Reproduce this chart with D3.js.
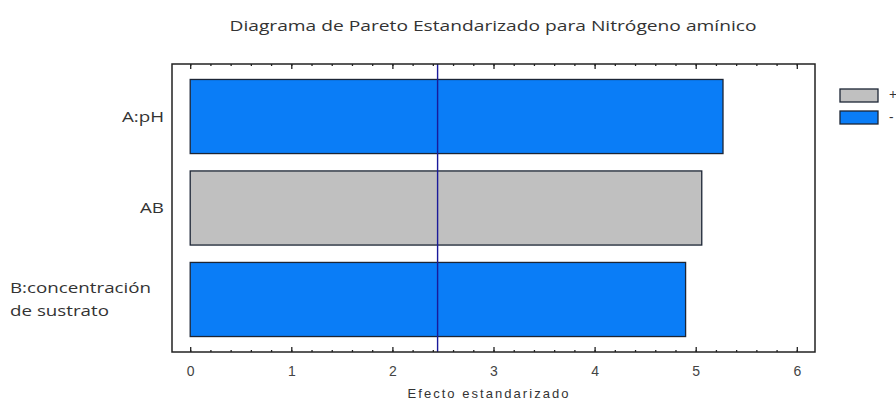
<!DOCTYPE html>
<html>
<head>
<meta charset="utf-8">
<script src="https://cdn.jsdelivr.net/npm/d3@7"></script>
<style>
  body { margin: 0; background: #fff; }
  svg { display: block; }
</style>
</head>
<body>
<svg id="chart" width="896" height="403"></svg>
<script>
// ---- Data ----
const categories = [["A:pH"], ["AB"], ["B:concentración", "de sustrato"]];
const effects = [5.27, 5.06, 4.90];
const signs = ["-", "+", "-"];
const xTicks = [0, 1, 2, 3, 4, 5, 6];
const xDomain = [-0.18, 6.18];
const criticalValue = 2.447;
const legendItems = ["+", "-"];
const titleText = "Diagrama de Pareto Estandarizado para Nitrógeno amínico";
const xLabel = "Efecto estandarizado";

// ---- Layout ----
const svg = d3.select("#chart");
const L = 172, R = 815, T = 64, B = 352;
const colors = { "+": "#c0c0c0", "-": "#0a7df7" };

const x = d3.scaleLinear().domain(xDomain).range([L, R]);
const y = d3.scaleBand().domain(d3.range(categories.length)).range([T, B])
  .paddingInner(0.19).paddingOuter(0.169);

// Title
svg.append("text").attr("x", 493).attr("y", 31).attr("text-anchor", "middle")
  .attr("font-family", "Open Sans").attr("font-size", 15).attr("fill", "#333")
  .attr("textLength", 527).attr("lengthAdjust", "spacingAndGlyphs")
  .text(titleText);

// Bars
svg.append("g").selectAll("rect").data(effects).join("rect")
  .attr("x", x(0))
  .attr("y", (d, i) => y(i))
  .attr("width", d => x(d) - x(0))
  .attr("height", y.bandwidth())
  .attr("fill", (d, i) => colors[signs[i]])
  .attr("stroke", "#1c2535").attr("stroke-width", 1.3);

// Reference line
svg.append("line").attr("x1", x(criticalValue)).attr("x2", x(criticalValue))
  .attr("y1", T).attr("y2", B).attr("stroke", "#1a1a9a").attr("stroke-width", 1.4);

// Axes
const minorTicks = d3.range(0, 6.0001, 0.2).map(v => +v.toFixed(1));
const bottomMajor = svg.append("g").attr("transform", `translate(0,${B})`)
  .call(d3.axisBottom(x).tickValues(xTicks).tickSize(-5).tickPadding(14).tickFormat(d3.format("d")));
const bottomMinor = svg.append("g").attr("transform", `translate(0,${B})`)
  .call(d3.axisBottom(x).tickValues(minorTicks).tickSize(-2).tickFormat(""));
const topMajor = svg.append("g").attr("transform", `translate(0,${T})`)
  .call(d3.axisTop(x).tickValues(xTicks).tickSize(-5).tickFormat(""));
const topMinor = svg.append("g").attr("transform", `translate(0,${T})`)
  .call(d3.axisTop(x).tickValues(minorTicks).tickSize(-2).tickFormat(""));
[bottomMajor, bottomMinor, topMajor, topMinor].forEach(g => {
  g.select(".domain").remove();
  g.selectAll(".tick line").attr("stroke", "#222").attr("stroke-width", 1.3);
});
bottomMajor.selectAll(".tick text").attr("font-family", "Liberation Sans")
  .attr("font-size", 14).attr("fill", "#444");

// Frame
svg.append("rect").attr("x", L).attr("y", T).attr("width", R - L).attr("height", B - T)
  .attr("fill", "none").attr("stroke", "#222").attr("stroke-width", 1.5);

// X label
svg.append("text").attr("x", 488).attr("y", 398).attr("text-anchor", "middle")
  .attr("font-family", "Liberation Sans").attr("font-size", 13).attr("fill", "#333")
  .attr("textLength", 161).attr("lengthAdjust", "spacing")
  .text(xLabel);

// Category labels (horizontally stretched like the reference)
const sx = 1.34;
const catG = svg.append("g");
categories.forEach((lines, i) => {
  const cy = y(i) + y.bandwidth() / 2;
  const lh = 23;
  const g = catG.append("g");
  const t = g.append("text").attr("font-family", "Open Sans").attr("font-size", 14)
    .attr("fill", "#333");
  lines.forEach((ln, k) => {
    t.append("tspan").attr("x", 0).attr("y", cy + (k - (lines.length - 1) / 2) * lh + 5).text(ln);
  });
  const maxW = d3.max(t.selectAll("tspan").nodes(), s => s.getComputedTextLength()) * sx;
  const left = lines.length > 1 ? 10 : 164 - maxW;
  g.attr("transform", `translate(${left},0) scale(${sx},1)`);
});

// Legend
const lg = svg.append("g");
legendItems.forEach((s, i) => {
  lg.append("rect").attr("x", 840).attr("y", 89 + i * 22).attr("width", 38).attr("height", 13)
    .attr("fill", colors[s]).attr("stroke", "#1c2535").attr("stroke-width", 1.3);
  lg.append("text").attr("x", 889).attr("y", 100 + i * 22)
    .attr("font-family", "Open Sans").attr("font-size", 14).attr("fill", "#333").text(s);
});
</script>
</body>
</html>
